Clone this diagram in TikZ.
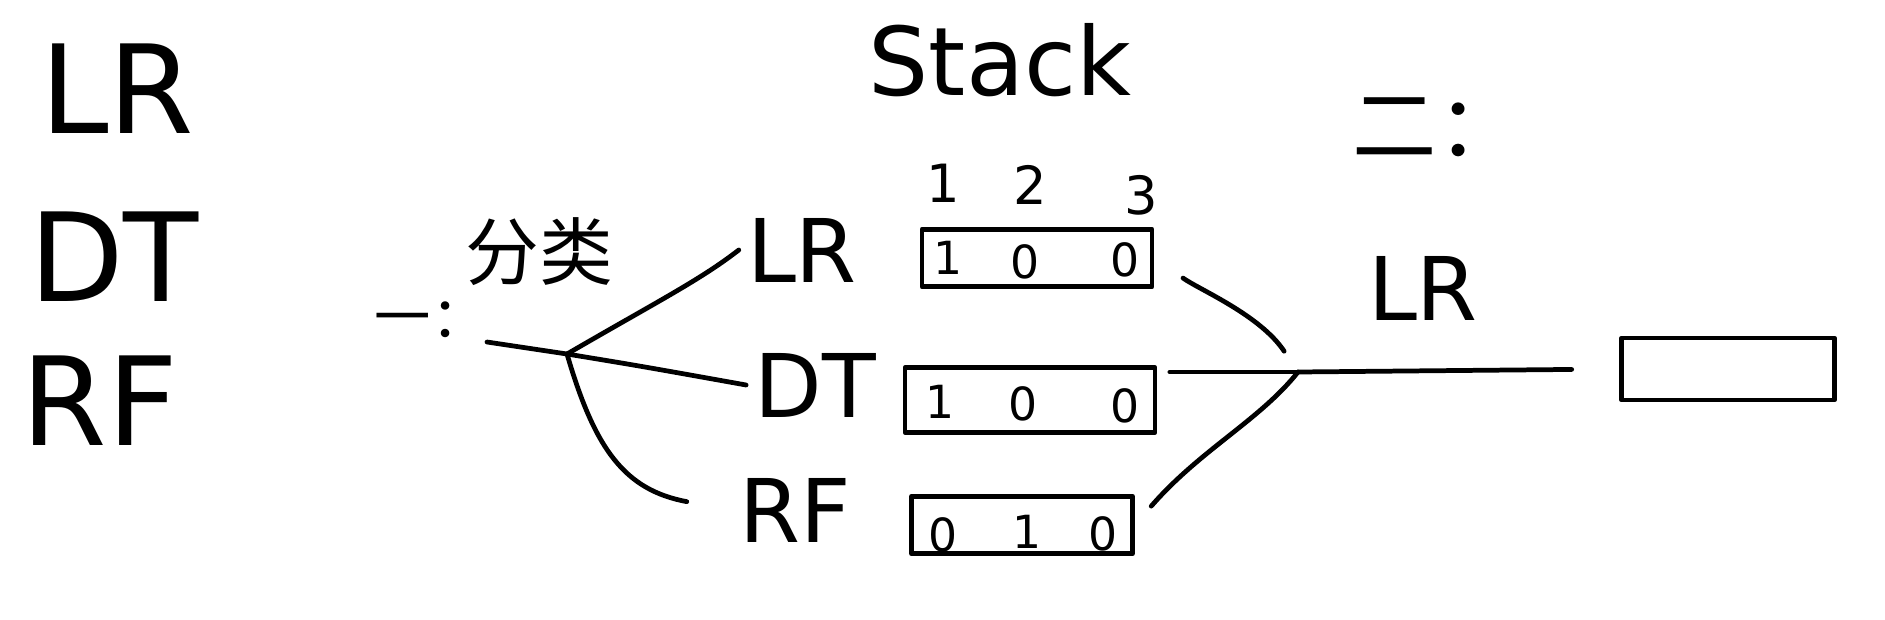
\documentclass[tikz,border=0pt]{standalone}
\usepackage{fontspec}
\setmainfont{DejaVu Sans}
\newfontfamily\cjk{Noto Sans CJK SC}
\usetikzlibrary{calc, positioning}

\begin{document}
\begin{tikzpicture}[x=0.02cm, y=-0.02cm,
  line width=2.7pt, line cap=round, line join=round,
  bigtxt/.style={font=\fontsize{70}{80}\selectfont},
  midtxt/.style={font=\fontsize{50}{58}\selectfont},
  cjktxt/.style={font=\cjk\fontsize{#1}{#1}\selectfont},
  numtxt/.style={font=\fontsize{30}{36}\selectfont},
  celltxt/.style={font=\fontsize{26}{30}\selectfont},
  rowbox/.style={draw, rectangle, inner sep=0pt, minimum height=1.15cm},
]
\useasboundingbox (0,0) rectangle (1885,619);

\coordinate (in) at (487,342);
\coordinate (split) at (567,354);
\coordinate (merge) at (1298,372);

% list on the left
\node[bigtxt] (lrL) at (117,89) {LR};
\node[bigtxt] (dtL) at (114,257) {DT};
\node[bigtxt] (rfL) at (100,401) {RF};

% part one
\node[cjktxt=32] (one) at (431,320) {一：};
\node[cjktxt=42] (kind) at (539,252) {分类};
\node[font=\fontsize{54}{60}\selectfont] (stack) at (1000,60) {Stack};

\node[midtxt] (lrM) at (802,250) {LR};
\node[midtxt] (dtM) at (815,385) {DT};
\node[midtxt] (rfM) at (795,510) {RF};

\draw (in) -- (split);
\draw (split) .. controls (660,300) and (700,280) .. (lrM.west);
\draw (split) .. controls (640,366) .. (dtM.west);
\draw[shorten >=0.9cm] (split) .. controls (595,450) and (625,490) .. (rfM.west);

% one-hot rows
\node[numtxt] (h1) at (943,183) {1};
\node[numtxt] (h2) at (1030,185) {2};
\node[numtxt] (h3) at (1141,195) {3};

\node[rowbox, minimum width=4.6cm] (box1) at (1037,258) {};
\node[rowbox, minimum width=5.0cm, minimum height=1.3cm] (box2) at (1030,400) {};
\node[rowbox, minimum width=4.42cm] (box3) at (1022,525) {};

\node[celltxt] (c11) at (948,258) {1};
\node[celltxt] (c12) at (1025,262) {0};
\node[celltxt] (c13) at (1125,260) {0};
\node[celltxt] (c21) at (940,402) {1};
\node[celltxt] (c22) at (1023,404) {0};
\node[celltxt] (c23) at (1125,406) {0};
\node[celltxt] (c31) at (943,535) {0};
\node[celltxt] (c32) at (1027,532) {1};
\node[celltxt] (c33) at (1103,534) {0};

% part two
\node[cjktxt=48] (two) at (1437,127) {二：};
\node[midtxt] (lrR) at (1423,288) {LR};
\node[rowbox, minimum width=4.26cm, minimum height=1.24cm] (out) at (1728,369) {};

\draw[shorten <=0.7cm, shorten >=0.5cm] (box1.east) .. controls (1200,290) and (1260,315) .. (merge);
\draw[shorten <=0.25cm] (box2.east |- merge) -- (merge);
\draw[shorten <=0.5cm] (box3.east) .. controls (1200,450) and (1260,420) .. (merge);
\draw[shorten >=0.95cm] (merge) -- (out.west);
\end{tikzpicture}
\end{document}
